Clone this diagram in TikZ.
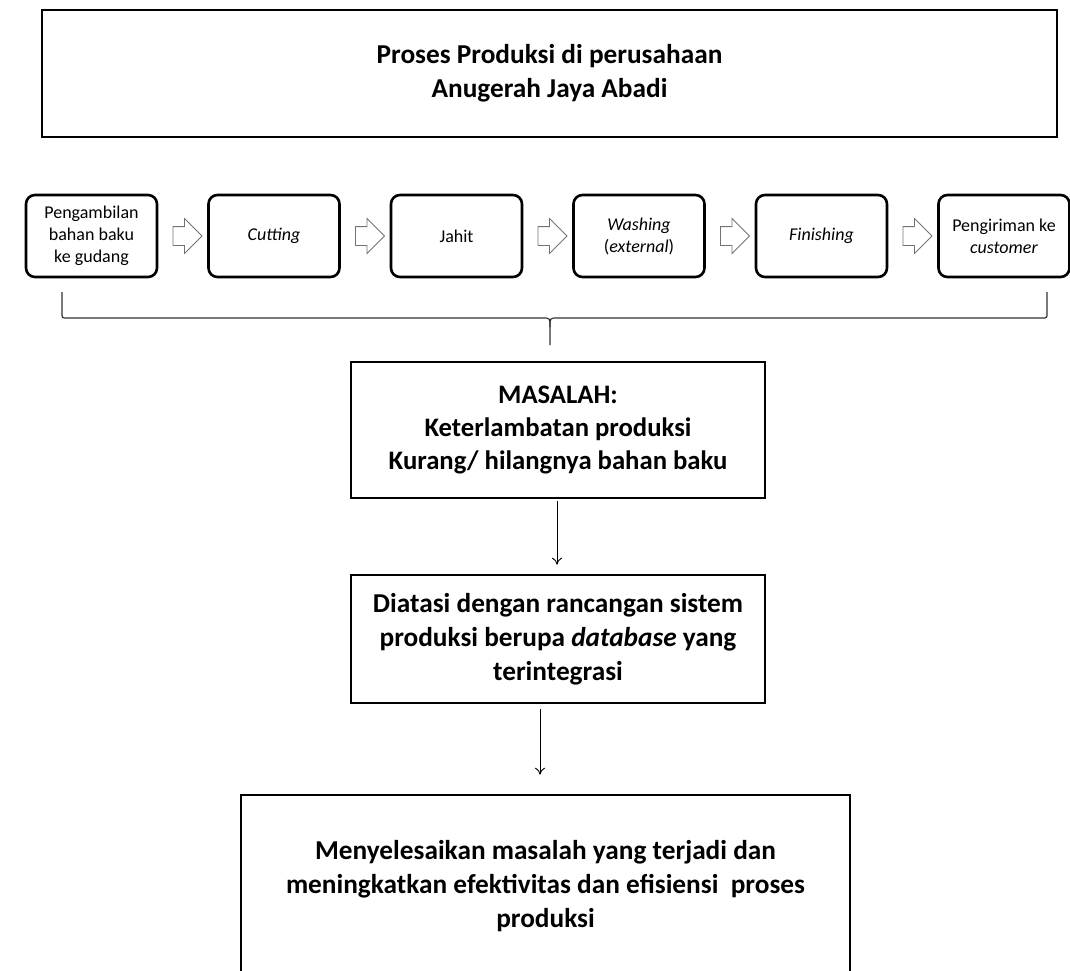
\documentclass[tikz,border=0pt]{standalone}
\usepackage{fontspec}
\setmainfont{Carlito}
\usetikzlibrary{positioning,shapes.arrows,arrows.meta}

\begin{document}
\begin{tikzpicture}[
    x=1pt, y=-1pt,
    node distance=48.9pt,
    bigbox/.style={rectangle, draw, line width=2.6pt, align=center, inner sep=0pt, font=\fontsize{27.3}{34}\selectfont\bfseries},
    stepbox/.style={rectangle, rounded corners=9pt, draw, line width=2.6pt, minimum width=131pt, minimum height=82pt, inner sep=0pt, align=center, font=\fontsize{18}{22}\selectfont},
    blockarrow/.style={single arrow, draw=black!55, line width=0.8pt, inner xsep=0pt, inner ysep=9pt, minimum height=29pt, single arrow head extend=8pt},
    braceline/.style={draw=black!80, line width=1.2pt},
    arrow/.style={-{To[length=7pt,width=10pt]}, line width=0.9pt}
]
\clip (0,0) rectangle (1070,971);

% Title
\node[bigbox, minimum width=1015pt, minimum height=127pt] (title) at (549.5,73.5) {Proses Produksi di perusahaan\\Anugerah Jaya Abadi};

% Process steps
\node[stepbox] (ambil) at (91.5,236) {Pengambilan\\bahan baku\\ke gudang};
\node[stepbox, right=of ambil] (cutting) {\textit{Cutting}};
\node[stepbox, right=of cutting] (jahit) {Jahit};
\node[stepbox, right=of jahit] (washing) {\textit{Washing}\\(\textit{external})};
\node[stepbox, right=of washing] (finishing) {\textit{Finishing}};
\node[stepbox, right=of finishing] (kirim) {Pengiriman ke\\\textit{customer}};

% Block arrows between steps
\path (ambil) -- (cutting) node[midway, blockarrow] (a1) {};
\path (cutting) -- (jahit) node[midway, blockarrow] (a2) {};
\path (jahit) -- (washing) node[midway, blockarrow] (a3) {};
\path (washing) -- (finishing) node[midway, blockarrow] (a4) {};
\path (finishing) -- (kirim) node[midway, blockarrow] (a5) {};

% Brace
\coordinate (bl) at (62,292);
\coordinate (br) at (1047,292);
\coordinate (tip) at (550,345);
\draw[braceline] (bl) -- (62,313) .. controls (62,318) .. (67,318) -- (543,318) .. controls (550,318) .. (550,327) -- (tip);
\draw[braceline] (550,327) .. controls (550,318) .. (557,318) -- (1042,318) .. controls (1047,318) .. (1047,313) -- (br);

% Problem
\node[bigbox, minimum width=414pt, minimum height=136pt, font=\fontsize{26.7}{33}\selectfont\bfseries] (masalah) at (558,430) {MASALAH:\\Keterlambatan produksi\\Kurang/ hilangnya bahan baku};

% Solution
\node[bigbox, minimum width=414pt, minimum height=128pt] (diatasi) at (558,639) {Diatasi dengan rancangan sistem\\produksi berupa \textit{database} yang\\terintegrasi};

% Goal
\node[bigbox, minimum width=609pt, minimum height=182pt] (goal) at (545.5,886) {Menyelesaikan masalah yang terjadi dan\\meningkatkan efektivitas dan efisiensi\ \ proses\\produksi};

% Arrows
\draw[arrow, shorten <=2pt, shorten >=9pt] ([xshift=-1pt]masalah.south) -- ([xshift=-1pt]diatasi.north);
\draw[arrow, shorten <=5pt, shorten >=19pt] ([xshift=-18pt]diatasi.south) -- ([xshift=-5.5pt]goal.north);

\end{tikzpicture}
\end{document}
